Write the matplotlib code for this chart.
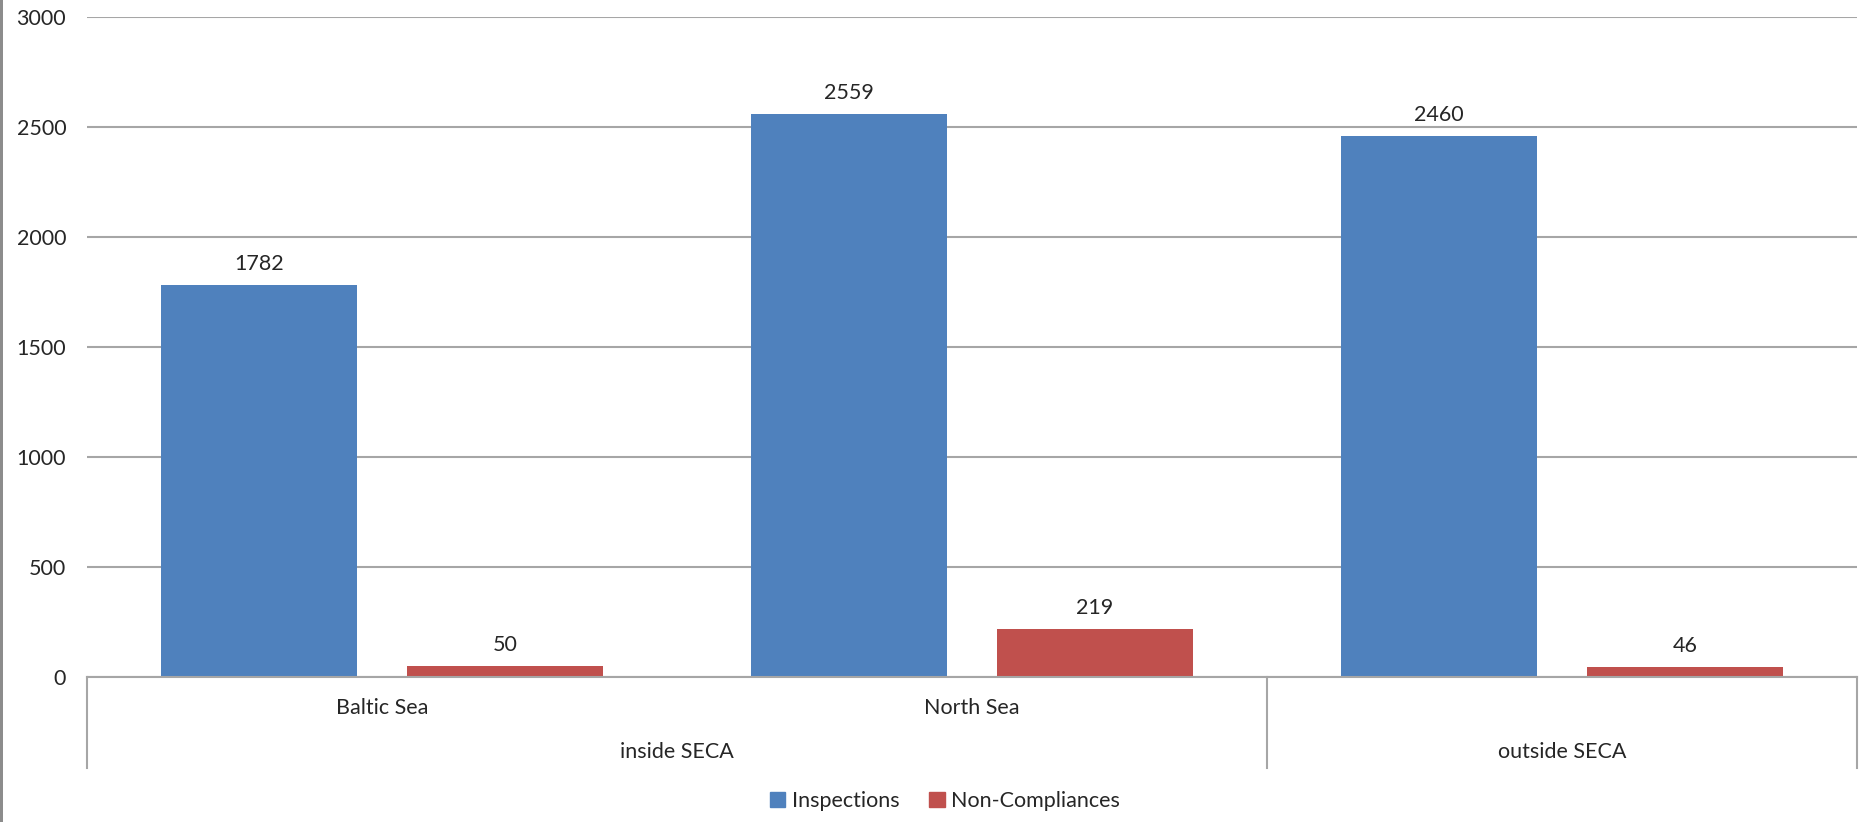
import matplotlib
matplotlib.use("Agg")
import matplotlib.pyplot as plt
from matplotlib.lines import Line2D
from matplotlib.patches import Patch, Rectangle
import numpy as np

# inner category labels (third category has no sub-label in the original)
regions = ["Baltic Sea", "North Sea", ""]
groups = ["inside SECA", "outside SECA"]
group_spans = [(0, 1), (2, 2)]
inspections = [1782, 2559, 2460]
non_compliances = [50, 219, 46]

blue = "#4F81BD"
red = "#C0504D"
grid_grey = "#A6A6A6"
text_col = "#262626"
fs = 15.5

plt.rcParams["font.family"] = ["Lato", "DejaVu Sans"]
plt.rcParams["font.size"] = fs

fig = plt.figure(figsize=(18.64, 8.22), dpi=100)
ax = fig.add_axes([87 / 1864, 1 - 677 / 822, 1770 / 1864, 660 / 822])

x = np.arange(len(regions))
w = 0.332
off = 0.208
b1 = ax.bar(x - off, inspections, w, color=blue, label="Inspections", zorder=3)
b2 = ax.bar(x + off, non_compliances, w, color=red, label="Non-Compliances", zorder=3)
ax.bar_label(b1, padding=8, fontsize=fs, color=text_col)
ax.bar_label(b2, padding=8, fontsize=fs, color=text_col)

ax.set_xlim(-0.5, len(regions) - 0.5)
ax.set_ylim(0, 3000)
ax.set_yticks(np.arange(0, 3001, 500))
ax.yaxis.grid(True, color=grid_grey, linewidth=1.5, zorder=0)
ax.tick_params(axis="y", length=0, pad=15, labelcolor=text_col, labelsize=fs)
ax.set_xticks([])
for s in ["top", "right", "left"]:
    ax.spines[s].set_visible(False)
ax.spines["bottom"].set_color(grid_grey)
ax.spines["bottom"].set_linewidth(1.5)
ax.spines["bottom"].set_zorder(4)

# two-level category axis drawn under the plot
trans = ax.get_xaxis_transform()
box_bottom = -91 / 660
for xv in [-0.5, 1.5, len(regions) - 0.5]:
    ax.add_line(Line2D([xv, xv], [0, box_bottom], transform=trans,
                       color=grid_grey, linewidth=1.5, clip_on=False))
for xi, lab in zip(x, regions):
    ax.text(xi, -31 / 660, lab, transform=trans, ha="center", va="center",
            fontsize=fs, color=text_col)
for g, (a, b) in zip(groups, group_spans):
    ax.text((a + b) / 2, -75 / 660, g, transform=trans, ha="center", va="center",
            fontsize=fs, color=text_col)

handles = [Patch(color=blue), Patch(color=red)]
fig.legend(handles, ["Inspections", "Non-Compliances"], loc="center",
           bbox_to_anchor=(945 / 1864, 1 - 801 / 822), ncol=2, frameon=False,
           handlelength=0.7, handleheight=0.7, handletextpad=0.3,
           columnspacing=1.4, fontsize=fs, labelcolor=text_col)

fig.add_artist(Rectangle((0, 0), 2.5 / 1864, 1, transform=fig.transFigure,
                         color="#8C8C8C", linewidth=0))

fig.savefig("out.png", dpi=100)
